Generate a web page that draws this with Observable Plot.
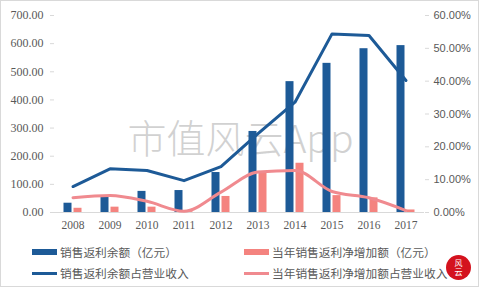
<!DOCTYPE html>
<html>
<head>
<meta charset="utf-8">
<script src="https://cdn.jsdelivr.net/npm/d3@7"></script>
<script src="https://cdn.jsdelivr.net/npm/@observablehq/plot@0.6"></script>
<style>
  html, body { margin: 0; padding: 0; background: #fff; }
  #wrap { position: relative; width: 479px; height: 287px; overflow: hidden; }
  #border { position: absolute; left: 0; top: 0; width: 479px; height: 287px; box-sizing: border-box; border: 1px solid #d9d9d9; pointer-events: none; }
  #chart { position: absolute; left: 0; top: 0; }
  .lg { position: absolute; font-family: "Noto Sans CJK SC", sans-serif; font-size: 11.7px; color: #595959; white-space: nowrap; line-height: 14px; }
  .sw { position: absolute; }
  #seal { position: absolute; left: 446px; top: 255px; width: 25px; height: 25px; border-radius: 50%; background: #d4121e;
          color: #fff; font-family: "Noto Sans CJK SC", sans-serif; font-size: 8px; line-height: 9px; text-align: center; }
</style>
</head>
<body>
<div id="wrap">
  <div id="chart"></div>
  <div id="legend"></div>
  <div id="seal"><div style="padding-top:3px">风<br>云</div></div>
  <div id="border"></div>
</div>
<script>
// Sales rebate balance and net increase, with their share of operating revenue
const years = ["2008", "2009", "2010", "2011", "2012", "2013", "2014", "2015", "2016", "2017"];
const rebateBalance = [33, 55, 75, 78, 142, 288, 465, 530, 582, 593];      // 亿元
const rebateIncrease = [15, 19, 19, 3, 57, 141, 175, 60, 52, 9];           // 亿元
const balanceShare = [7.9, 13.3, 12.8, 9.7, 14.0, 24.0, 33.6, 54.4, 53.9, 40.2];  // %
const increaseShare = [4.5, 5.2, 3.4, 0.4, 6.2, 12.3, 12.8, 6.4, 4.5, 0.6];      // %
const leftTicks = [0, 100, 200, 300, 400, 500, 600, 700];
const rightTicks = [0, 10, 20, 30, 40, 50, 60];
const seriesNames = ["销售返利余额（亿元）", "当年销售返利净增加额（亿元）", "销售返利余额占营业收入", "当年销售返利净增加额占营业收入"];

const BLUE = "#1d5a97";
const PINK_BAR = "#f4837f";
const PINK_LINE = "#f08a8f";
const LEFT_MAX = 700, RIGHT_MAX = 60;
const toLeft = p => p * LEFT_MAX / RIGHT_MAX;

const rows = years.map((y, i) => ({
  year: y,
  balance: rebateBalance[i],
  increase: rebateIncrease[i],
  bShare: toLeft(balanceShare[i]),
  iShare: toLeft(increaseShare[i])
}));

const chart = Plot.plot({
  width: 479,
  height: 235,
  marginTop: 15,
  marginBottom: 23,
  marginLeft: 54,
  marginRight: 55,
  style: { background: "transparent", color: "#595959" },
  x: { domain: years, padding: 0 },
  y: { domain: [0, LEFT_MAX] },
  marks: [
    Plot.text(["市值风云App"], {
      frameAnchor: "middle", text: d => d, dy: 27, dx: 1,
      fontSize: 39, fill: "#c9c9c9", fontFamily: "Noto Sans CJK SC", fontWeight: 300, fillOpacity: 0.85
    }),
    Plot.ruleY([0], { stroke: "#d9d9d9" }),
    Plot.axisX({
      tickSize: 0, tickPadding: 8, fontFamily: "Liberation Serif", fontSize: 11.5,
      fill: "#595959", label: null
    }),
    Plot.axisY({
      anchor: "left", ticks: leftTicks, tickSize: 4, tickPadding: 7,
      tickFormat: d3.format(".2f"), stroke: "#d9d9d9", fill: "#595959",
      fontFamily: "Liberation Serif", fontSize: 12, label: null, line: true
    }),
    Plot.axisY({
      anchor: "right", ticks: rightTicks.map(toLeft), tickSize: 4, tickPadding: 5,
      tickFormat: d => (d * RIGHT_MAX / LEFT_MAX).toFixed(2) + "%", stroke: "#d9d9d9", fill: "#595959",
      fontFamily: "Liberation Sans", fontSize: 11, label: null, line: true
    }),
    Plot.barY(rows, { x: "year", y: "balance", fill: BLUE, insetLeft: 9.5, insetRight: 19.5 }),
    Plot.barY(rows, { x: "year", y: "increase", fill: PINK_BAR, insetLeft: 19.5, insetRight: 9.5 }),
    Plot.line(rows, { x: "year", y: "bShare", stroke: BLUE, strokeWidth: 3, curve: "linear" }),
    Plot.line(rows, { x: "year", y: "iShare", stroke: PINK_LINE, strokeWidth: 3, curve: "monotone-x" })
  ]
});
document.getElementById("chart").appendChild(chart);

// Legend below the chart: bar swatches on the first row, line swatches on the second
const legend = document.getElementById("legend");
const items = [
  { name: seriesNames[0], color: BLUE, left: 32, top: 252, thick: 6 },
  { name: seriesNames[1], color: PINK_BAR, left: 244, top: 252, thick: 6 },
  { name: seriesNames[2], color: BLUE, left: 32, top: 273, thick: 3 },
  { name: seriesNames[3], color: PINK_LINE, left: 244, top: 273, thick: 3 }
];
for (const it of items) {
  const sw = document.createElement("div");
  sw.className = "sw";
  sw.style.left = it.left + "px";
  sw.style.top = (it.top - it.thick / 2) + "px";
  sw.style.width = "25px";
  sw.style.height = it.thick + "px";
  sw.style.background = it.color;
  legend.appendChild(sw);
  const tx = document.createElement("div");
  tx.className = "lg";
  tx.style.left = (it.left + 28) + "px";
  tx.style.top = (it.top - 7) + "px";
  tx.textContent = it.name;
  legend.appendChild(tx);
}
</script>
</body>
</html>
